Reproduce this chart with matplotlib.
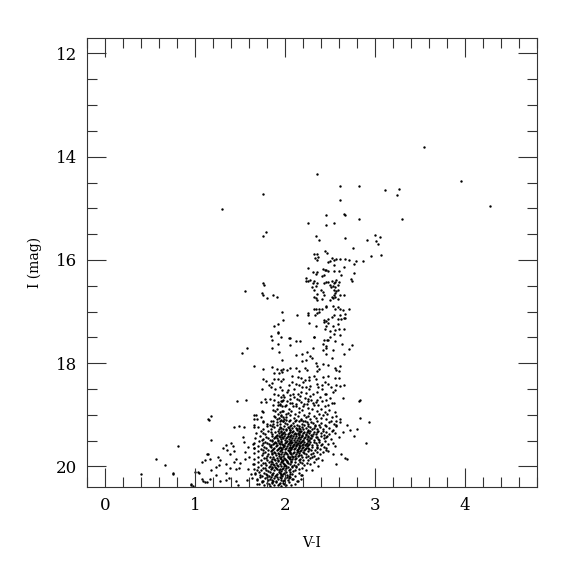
import numpy as np
import matplotlib
matplotlib.use("Agg")
import matplotlib.pyplot as plt
from matplotlib.ticker import MultipleLocator

# ---- data: (V-I, I) pairs, grouped by region ----
bright_stars = [(3.54,13.82),(2.35,14.34),(3.96,14.48),(4.28,14.96),(1.30,15.01),(1.75,14.73),
    (2.61,14.57),(2.82,14.57),(3.11,14.65),(3.27,14.63),(3.24,14.74),(3.30,15.21),(2.61,14.84),
    (2.46,15.13),(2.65,15.11),(2.67,15.13),(2.82,15.21),(2.25,15.29),(2.45,15.32),(2.54,15.29),
    (1.79,15.46),(1.76,15.54),(2.34,15.54),(2.38,15.61),(2.67,15.57),(2.76,15.77),(2.91,15.61),
    (3.00,15.52),(3.05,15.56),(3.01,15.63),(3.03,15.69),(2.95,15.92),(3.07,15.90),(2.87,16.02),
    (2.79,16.02),(2.77,16.08),(2.71,16.00),(2.67,15.98)]

upper_rgb = [(2.32,15.88),(2.36,15.88),(2.37,15.94),(2.33,15.96),(2.36,16.00),(2.44,15.83),(2.47,15.86),
    (2.52,15.96),(2.48,16.04),(2.50,16.02),(2.54,16.10),(2.57,15.98),(2.61,15.98),(2.54,16.00),
    (2.25,16.15),(2.31,16.23),(2.34,16.27),(2.36,16.23),(2.42,16.17),(2.44,16.19),(2.46,16.19),
    (2.48,16.21),(2.43,16.29),(2.41,16.31),(2.54,16.21),(2.60,16.21),(2.62,16.29),(2.66,16.14),
    (2.77,16.25),(2.73,16.37),(2.74,16.41),(2.23,16.35),(2.23,16.41),(2.25,16.41),(2.28,16.39),
    (2.32,16.41),(2.36,16.44),(2.31,16.44),(2.34,16.50),(2.43,16.44),(2.45,16.43),(2.48,16.43),
    (2.52,16.41),(2.54,16.44),(2.55,16.43),(2.57,16.39),(2.60,16.43),(2.59,16.48),(2.55,16.52),
    (2.53,16.50),(2.51,16.52),(2.50,16.48),(2.40,16.58),(2.42,16.62),(2.36,16.66),(2.32,16.58),
    (2.30,16.52),(2.54,16.58),(2.57,16.60),(2.59,16.58),(2.56,16.64),(2.54,16.68),(2.52,16.71),
    (2.53,16.73),(2.56,16.71),(2.61,16.68),(2.59,16.75),(2.50,16.77),(2.65,16.68),(2.43,16.68),
    (2.41,16.75),(2.36,16.77),(2.32,16.71),(2.34,16.73),(2.45,16.89),(2.46,16.91),(2.41,16.95),
    (2.38,16.95),(2.34,16.95),(2.32,16.95),(2.36,17.02),(2.33,17.06),(2.38,17.01),(2.53,16.89),
    (2.56,16.95),(2.59,16.91),(2.61,16.95),(2.64,16.97),(2.71,16.95),(2.67,17.04),(2.61,17.06),
    (2.54,17.06),(2.59,17.14),(2.62,17.14),(2.66,17.12),(2.25,17.02),(2.25,17.06),(2.13,17.06),
    (2.43,17.16),(2.46,17.18),(2.48,17.14),(2.52,17.10),(2.43,17.20),(2.48,17.22),(2.46,17.29),
    (2.44,17.33),(2.50,17.37),(2.53,17.29),(2.56,17.35),(2.60,17.33),(2.59,17.24),(2.61,17.45),
    (2.54,17.43),(2.50,17.49),(2.47,17.55),(2.27,17.22),(2.34,17.28),(2.32,17.49),(2.65,17.33),
    (2.67,17.12)]

red_clump = [(1.76,16.44),(1.77,16.48),(1.74,16.64),(1.75,16.68),(1.56,16.60),(1.87,16.68),
    (1.80,16.73),(1.91,16.71),(1.97,17.00),(1.98,17.16),(1.92,17.24),(1.88,17.29),(1.92,17.39),
    (1.92,17.41),(1.84,17.47),(1.95,17.49),(2.05,17.51)]

mid_left = [(1.85,17.55),(1.92,17.62),(1.86,17.70),(1.93,17.78),(1.52,17.80),(1.58,17.70),(1.97,17.93),
    (1.66,18.05),(1.76,18.11),(1.85,18.07),(1.91,18.11),(1.96,18.13),(1.98,18.11),(1.88,18.20),
    (1.93,18.20),(1.97,18.18),(1.75,18.30),(1.79,18.34),(1.85,18.38),(1.88,18.30),(1.92,18.30),
    (1.95,18.34),(1.98,18.30),(1.82,18.43),(1.84,18.47),(1.74,18.51),(1.89,18.51),(1.94,18.47),
    (1.97,18.53),(1.88,18.59),(1.92,18.61),(1.95,18.65),(1.98,18.61),(1.78,18.69),(1.83,18.69),
    (1.73,18.76),(1.79,18.76),(1.88,18.71),(1.92,18.76),(1.95,18.74),(1.98,18.71),(1.47,18.74),
    (1.57,18.72),(1.87,18.82),(1.92,18.82),(1.94,18.82),(1.97,18.84),(2.01,18.82),(1.74,18.92),
    (1.76,18.94),(1.66,19.00),(1.68,19.01),(1.87,18.90),(1.89,18.92),(1.92,18.98),(1.94,18.94),
    (1.97,18.92),(2.01,18.98),(1.88,19.03),(1.89,19.05),(1.95,19.03),(1.98,19.05),(1.18,19.03),
    (1.14,19.09),(1.65,19.09),(1.69,19.09),(1.73,19.05),(1.76,19.13),(1.80,19.17),(1.84,19.13),
    (1.87,19.17),(1.91,19.09),(1.94,19.13),(1.98,19.13),(2.01,19.11)]

mid_right = [(2.04,17.51),(2.06,17.64),(2.12,17.58),(2.17,17.57),(2.32,17.49),(2.43,17.55),(2.48,17.55),
    (2.42,17.62),(2.45,17.66),(2.42,17.74),(2.46,17.70),(2.53,17.74),(2.56,17.58),(2.63,17.62),
    (2.71,17.72),(2.74,17.64),(2.66,17.82),(2.24,17.78),(2.19,17.82),(2.31,17.70),(2.28,17.86),
    (2.30,17.91),(2.23,17.93),(2.19,17.95),(2.12,17.84),(2.34,17.99),(2.36,18.05),(2.42,18.01),
    (2.45,17.82),(2.52,17.91),(2.48,18.03),(2.55,18.09),(2.57,18.13),(2.61,18.05),(2.60,18.16),
    (2.36,18.16),(2.38,18.11),(2.32,18.24),(2.34,18.30),(2.27,18.26),(2.24,18.14),(2.22,18.09),
    (2.15,18.16),(2.12,18.09),(2.06,18.09),(2.02,18.13),(2.08,18.24),(2.14,18.26),(2.18,18.28),
    (2.22,18.32),(2.42,18.26),(2.48,18.24),(2.55,18.28),(2.60,18.28),(2.44,18.36),(2.48,18.40),
    (2.51,18.47),(2.57,18.43),(2.61,18.45),(2.66,18.42),(2.37,18.47),(2.41,18.51),(2.44,18.59),
    (2.35,18.55),(2.27,18.51),(2.31,18.59),(2.23,18.47),(2.18,18.55),(2.15,18.42),(2.08,18.36),
    (2.04,18.42),(2.03,18.53),(2.09,18.59),(2.53,18.55),(2.56,18.53),(2.64,18.67),(2.50,18.67),
    (2.46,18.71),(2.41,18.74),(2.37,18.82),(2.44,18.84),(2.48,18.82),(2.54,18.78),(2.82,18.74),
    (2.35,18.71),(2.31,18.78),(2.25,18.74),(2.21,18.80),(2.15,18.72),(2.12,18.84),(2.06,18.78),
    (2.47,18.98),(2.56,18.94),(2.57,19.03),(2.52,19.05),(2.42,19.00),(2.40,19.07),(2.46,19.09),
    (2.51,19.13),(2.57,19.13),(2.61,19.09),(2.83,19.07),(2.93,19.15)]

mid_core = [(2.05,18.62),(2.10,18.66),(2.17,18.63),(2.22,18.68),(2.28,18.64),(1.99,18.66),(2.13,18.70),
    (2.02,18.73),(2.08,18.77),(2.18,18.75),(2.24,18.79),(2.29,18.72),(2.34,18.76),(1.94,18.79),
    (2.00,18.84),(2.04,18.88),(2.09,18.83),(2.15,18.87),(2.19,18.91),(2.25,18.86),(2.30,18.89),
    (2.36,18.92),(1.91,18.88),(1.98,18.93),(2.03,18.96),(2.07,18.92),(2.11,18.98),(2.16,18.95),
    (2.21,19.00),(2.27,18.97),(2.32,19.02),(2.38,18.99),(1.96,19.01),(2.01,19.04),(2.06,19.00),
    (2.10,19.06),(2.14,19.03),(2.18,19.08),(2.23,19.05),(2.28,19.09),(2.34,19.06),(1.93,19.07),
    (1.99,19.09),(2.04,19.12),(2.12,19.10),(2.20,19.13),(2.26,19.02),(2.12,18.80),(2.20,18.84),
    (2.06,18.70),(1.97,18.73),(2.26,18.70),(2.32,18.82),(2.40,18.88),(2.44,18.95),(2.14,18.60),
    (2.23,18.58),(2.02,18.55),(2.10,18.50),(2.19,18.47),(2.28,18.44),(2.35,18.40),(2.12,18.40),
    (2.20,18.36),(2.27,18.32),(2.41,18.42),(2.46,18.60),(2.52,18.78),(2.39,18.65),(2.49,18.90)]

right_fringe = [(2.57,19.19),(2.61,19.15),(2.69,19.19),(2.72,19.29),(2.80,19.27),(2.90,19.54),
    (2.77,19.42),(2.69,19.85),(2.62,19.77),(2.57,19.96),(2.53,19.77),(2.56,19.61),(2.60,19.44),
    (2.64,19.34),(2.53,19.54),(2.48,19.71),(2.45,19.65),(2.41,19.88),(2.37,20.00),(2.30,20.08),
    (2.19,20.17),(2.14,20.29),(2.08,20.25),(2.04,20.23),(2.06,20.15),(2.18,20.25),(2.83,18.72),
    (2.67,19.83)]

blue_tail = [(0.57,19.85),(0.67,19.98),(0.40,20.15),(0.75,20.14),(0.81,19.61),(0.95,20.35),
    (0.98,20.39),(1.00,20.10),(1.04,20.12),(1.08,19.92),(1.11,19.88),(1.14,19.77),(1.09,20.29),
    (1.13,20.31),(1.15,19.11),(1.43,19.23),(1.49,19.21),(1.54,19.23),(1.65,19.19),(1.65,19.23),
    (1.18,19.48),(1.34,19.59),(1.40,19.54),(1.42,19.61),(1.31,19.65),(1.36,19.69),(1.43,19.71),
    (1.39,19.77),(1.53,19.44),(1.54,19.52),(1.59,19.63),(1.56,19.73),(1.64,19.57),(1.66,19.65),
    (1.13,19.77),(1.17,19.85),(1.25,19.81),(1.28,19.88),(1.18,20.08),(1.23,20.02),(1.27,19.98),
    (1.34,19.96),(1.34,20.12),(1.39,20.04),(1.45,20.06),(1.50,19.94),(1.49,20.04),(1.46,19.85),
    (1.43,19.92),(1.55,19.85),(1.60,19.81),(1.64,19.96),(1.59,20.06),(1.62,20.15),(0.76,20.12),
    (0.96,20.37),(1.03,20.10),(1.08,20.25),(1.11,20.31),(1.17,20.25),(1.23,20.17),(1.28,20.29),
    (1.34,20.27),(1.38,20.23),(1.45,20.29),(1.48,20.37),(1.58,20.27),(1.63,20.23),(1.67,20.12),
    (1.69,20.08),(1.72,20.17),(1.69,20.27),(1.74,20.29),(1.69,20.35)]

core = [
    (1.76,19.14),(1.83,19.19),(1.87,19.12),(1.94,19.17),(1.98,19.13),(2.02,19.18),(2.05,19.11),(2.09,19.16),
    (2.13,19.19),(2.16,19.13),(2.19,19.17),(2.22,19.12),(2.26,19.18),(2.29,19.14),(2.33,19.19),(2.36,19.12),
    (2.40,19.16),(2.44,19.19),(2.49,19.14),(2.54,19.18),(1.91,19.15),(2.07,19.19),(2.11,19.13),(2.24,19.15),
    (2.31,19.16),(2.00,19.16),(2.18,19.11),(1.96,19.11),
    (1.70,19.23),(1.75,19.27),(1.80,19.21),(1.84,19.28),(1.88,19.24),(1.91,19.20),(1.93,19.28),(1.96,19.25),
    (1.99,19.21),(2.01,19.27),(2.03,19.23),(2.05,19.29),(2.08,19.25),(2.10,19.22),(2.13,19.27),(2.15,19.21),
    (2.17,19.28),(2.19,19.24),(2.21,19.20),(2.23,19.26),(2.25,19.29),(2.28,19.23),(2.30,19.27),(2.33,19.22),
    (2.36,19.28),(2.39,19.24),(2.42,19.27),(2.45,19.21),(2.49,19.25),(2.53,19.29),(2.57,19.22),(1.86,19.22),
    (1.98,19.28),(2.06,19.21),(2.12,19.25),(2.20,19.28),(2.26,19.22),(2.32,19.25),(2.04,19.26),(2.16,19.25),
    (1.94,19.23),(2.38,19.20),
    (1.68,19.36),(1.73,19.32),(1.78,19.38),(1.81,19.31),(1.86,19.37),(1.89,19.33),(1.91,19.39),(1.93,19.35),
    (1.95,19.31),(1.97,19.38),(1.99,19.34),(2.01,19.30),(2.03,19.37),(2.05,19.33),(2.07,19.39),(2.09,19.32),
    (2.11,19.36),(2.13,19.30),(2.15,19.38),(2.17,19.34),(2.19,19.39),(2.21,19.33),(2.23,19.37),(2.25,19.31),
    (2.27,19.36),(2.29,19.39),(2.32,19.33),(2.34,19.38),(2.37,19.31),(2.40,19.36),(2.43,19.39),(2.46,19.33),
    (2.49,19.37),(2.52,19.31),(2.56,19.36),(1.84,19.34),(1.92,19.31),(1.98,19.36),(2.04,19.35),(2.08,19.34),
    (2.12,19.38),(2.16,19.31),(2.20,19.36),(2.24,19.34),(2.28,19.31),(2.31,19.37),(2.36,19.34),(2.42,19.32),
    (2.00,19.38),(2.06,19.30),(2.14,19.35),(2.18,19.32),(1.96,19.33),(2.10,19.38),(1.75,19.35),
    (1.67,19.45),(1.72,19.41),(1.76,19.47),(1.79,19.43),(1.83,19.48),(1.86,19.42),(1.88,19.46),(1.90,19.41),
    (1.92,19.48),(1.94,19.44),(1.96,19.40),(1.98,19.46),(2.00,19.49),(2.02,19.43),(2.04,19.47),(2.06,19.41),
    (2.08,19.45),(2.10,19.48),(2.12,19.42),(2.14,19.46),(2.16,19.40),(2.18,19.44),(2.20,19.49),(2.22,19.43),
    (2.24,19.47),(2.26,19.41),(2.29,19.45),(2.32,19.49),(2.34,19.43),(2.37,19.47),(2.40,19.42),(2.43,19.46),
    (2.47,19.41),(2.51,19.47),(1.81,19.45),(1.85,19.49),(1.89,19.44),(1.93,19.41),(1.97,19.44),(2.01,19.46),
    (2.03,19.41),(2.05,19.44),(2.07,19.48),(2.09,19.42),(2.11,19.45),(2.13,19.49),(2.15,19.43),(2.17,19.47),
    (2.19,19.41),(2.21,19.46),(2.23,19.40),(2.25,19.44),(2.27,19.48),(2.30,19.42),(2.36,19.44),(1.99,19.42),
    (1.95,19.47),(2.38,19.49),(2.45,19.44),(1.74,19.49),(1.91,19.45),(2.28,19.46),
    (1.66,19.55),(1.71,19.51),(1.74,19.58),(1.78,19.53),(1.82,19.57),(1.85,19.51),(1.87,19.56),(1.89,19.52),
    (1.91,19.58),(1.93,19.54),(1.95,19.50),(1.97,19.56),(1.99,19.59),(2.01,19.53),(2.03,19.57),(2.05,19.51),
    (2.07,19.55),(2.09,19.59),(2.11,19.52),(2.13,19.56),(2.15,19.50),(2.17,19.55),(2.19,19.58),(2.21,19.52),
    (2.23,19.57),(2.25,19.51),(2.27,19.56),(2.30,19.59),(2.32,19.53),(2.35,19.58),(2.38,19.52),(2.41,19.56),
    (2.44,19.51),(2.48,19.57),(1.80,19.54),(1.84,19.59),(1.88,19.54),(1.92,19.51),(1.96,19.53),(1.98,19.58),
    (2.00,19.55),(2.02,19.50),(2.04,19.54),(2.06,19.58),(2.08,19.52),(2.10,19.56),(2.12,19.59),(2.14,19.54),
    (2.16,19.58),(2.18,19.52),(2.20,19.56),(2.22,19.59),(2.24,19.54),(2.28,19.52),(2.34,19.55),(1.94,19.57),
    (2.26,19.58),(2.40,19.59),(1.76,19.55),(1.90,19.55),(2.06,19.53),(2.12,19.53),(2.19,19.51),
    (1.66,19.65),(1.70,19.61),(1.73,19.67),(1.77,19.62),(1.81,19.68),(1.84,19.63),(1.86,19.69),(1.88,19.64),
    (1.90,19.60),(1.92,19.66),(1.94,19.62),(1.96,19.68),(1.98,19.63),(2.00,19.67),(2.02,19.61),(2.04,19.65),
    (2.06,19.69),(2.08,19.63),(2.10,19.67),(2.12,19.61),(2.14,19.66),(2.16,19.62),(2.18,19.68),(2.20,19.63),
    (2.22,19.67),(2.24,19.61),(2.27,19.66),(2.30,19.62),(2.33,19.68),(2.36,19.63),(2.39,19.67),(2.43,19.62),
    (2.46,19.68),(1.79,19.65),(1.83,19.60),(1.87,19.66),(1.91,19.69),(1.95,19.64),(1.99,19.60),(2.01,19.64),
    (2.03,19.68),(2.05,19.62),(2.07,19.66),(2.09,19.60),(2.11,19.64),(2.13,19.69),(2.15,19.64),(2.17,19.60),
    (2.19,19.65),(2.21,19.69),(2.25,19.64),(2.29,19.68),(1.97,19.66),(2.23,19.64),(2.35,19.65),(1.75,19.69),
    (1.93,19.64),(2.07,19.64),
    (1.66,19.75),(1.70,19.71),(1.74,19.78),(1.78,19.73),(1.81,19.77),(1.84,19.71),(1.86,19.76),(1.88,19.72),
    (1.90,19.78),(1.92,19.74),(1.94,19.70),(1.96,19.76),(1.98,19.79),(2.00,19.73),(2.02,19.77),(2.04,19.71),
    (2.06,19.75),(2.08,19.79),(2.10,19.72),(2.12,19.76),(2.14,19.70),(2.16,19.75),(2.18,19.78),(2.20,19.72),
    (2.23,19.77),(2.26,19.71),(2.29,19.76),(2.32,19.79),(2.35,19.73),(2.39,19.77),(2.42,19.72),(1.80,19.79),
    (1.85,19.74),(1.89,19.75),(1.93,19.77),(1.97,19.72),(2.01,19.75),(2.03,19.79),(2.05,19.73),(2.07,19.77),
    (2.09,19.74),(2.11,19.79),(2.13,19.73),(2.17,19.71),(2.21,19.75),(2.25,19.79),(1.99,19.77),(2.15,19.78),
    (1.76,19.74),(2.31,19.74),
    (1.66,19.85),(1.70,19.81),(1.73,19.88),(1.77,19.83),(1.80,19.87),(1.83,19.81),(1.85,19.86),(1.87,19.82),
    (1.89,19.88),(1.91,19.84),(1.93,19.80),(1.95,19.86),(1.97,19.89),(1.99,19.83),(2.01,19.87),(2.03,19.81),
    (2.05,19.85),(2.07,19.89),(2.09,19.82),(2.11,19.86),(2.14,19.80),(2.17,19.85),(2.20,19.88),(2.23,19.82),
    (2.26,19.87),(2.30,19.81),(2.34,19.86),(2.37,19.83),(1.84,19.89),(1.88,19.85),(1.92,19.87),(1.96,19.82),
    (2.00,19.85),(2.02,19.89),(2.04,19.83),(2.08,19.86),(2.12,19.83),(2.15,19.88),(2.19,19.81),(1.79,19.84),
    (1.94,19.84),(2.06,19.81),(2.28,19.84),(1.98,19.87),
    (1.66,19.95),(1.70,19.91),(1.73,19.98),(1.76,19.93),(1.79,19.97),(1.82,19.91),(1.84,19.96),(1.86,19.92),
    (1.88,19.98),(1.90,19.94),(1.92,19.90),(1.94,19.96),(1.96,19.99),(1.98,19.93),(2.00,19.97),(2.02,19.91),
    (2.05,19.95),(2.08,19.99),(2.11,19.92),(2.14,19.96),(2.17,19.91),(2.21,19.97),(2.24,19.93),(2.28,19.96),
    (2.32,19.92),(1.83,19.99),(1.87,19.95),(1.91,19.97),(1.95,19.92),(1.99,19.95),(2.01,19.99),(2.03,19.94),
    (2.07,19.92),(2.10,19.97),(2.19,19.94),(1.78,19.94),(1.97,19.90),(2.12,19.99),
    (1.66,20.05),(1.70,20.01),(1.73,20.08),(1.76,20.03),(1.79,20.07),(1.82,20.01),(1.84,20.06),(1.86,20.02),
    (1.88,20.08),(1.90,20.04),(1.92,20.00),(1.94,20.06),(1.96,20.09),(1.98,20.03),(2.00,20.07),(2.03,20.01),
    (2.06,20.05),(2.09,20.09),(2.12,20.02),(2.15,20.06),(2.19,20.03),(2.23,20.07),(1.81,20.09),(1.85,20.04),
    (1.89,20.01),(1.93,20.08),(1.97,20.05),(2.01,20.04),(2.04,20.08),(2.08,20.02),(1.78,20.04),(1.91,20.06),
    (2.11,20.07),(1.99,20.00),
    (1.67,20.15),(1.71,20.11),(1.74,20.18),(1.77,20.13),(1.80,20.17),(1.83,20.11),(1.85,20.16),(1.87,20.12),
    (1.89,20.18),(1.91,20.14),(1.93,20.10),(1.95,20.16),(1.97,20.19),(1.99,20.13),(2.02,20.17),(2.05,20.11),
    (2.08,20.15),(2.11,20.19),(2.15,20.13),(2.18,20.17),(1.82,20.19),(1.86,20.14),(1.90,20.17),(1.94,20.12),
    (1.98,20.15),(2.01,20.11),(2.04,20.18),(1.79,20.14),(1.96,20.14),
    (1.69,20.25),(1.72,20.21),(1.75,20.28),(1.78,20.23),(1.81,20.27),(1.84,20.21),(1.86,20.26),(1.88,20.22),
    (1.90,20.28),(1.92,20.24),(1.94,20.20),(1.96,20.26),(1.98,20.29),(2.00,20.23),(2.03,20.27),(2.06,20.21),
    (2.09,20.25),(2.13,20.28),(1.83,20.24),(1.87,20.29),(1.91,20.21),(1.95,20.23),(1.99,20.26),(2.02,20.21),
    (1.80,20.20),
    (1.71,20.35),(1.74,20.31),(1.77,20.37),(1.80,20.33),(1.83,20.38),(1.85,20.32),(1.88,20.36),(1.90,20.31),
    (1.92,20.37),(1.94,20.33),(1.96,20.38),(1.98,20.32),(2.01,20.36),(2.04,20.31),(2.07,20.37),(2.11,20.34),
    (1.86,20.30),(1.93,20.35),(1.99,20.34),(1.82,20.35)]

x_ticks = [0, 1, 2, 3, 4]
y_ticks = [12, 14, 16, 18, 20]

groups = [bright_stars, upper_rgb, red_clump, mid_left, mid_right, mid_core,
          right_fringe, blue_tail, core]
pts = np.array([p for g in groups for p in g])
vi, imag = pts[:, 0], pts[:, 1]

plt.rcParams['font.family'] = ['DejaVu Serif']
fig = plt.figure(figsize=(5.75, 5.75), dpi=100)
ax = fig.add_axes([87/575, 1 - 487/575, 450/575, 449/575])

ax.scatter(vi, imag, s=3.0, c='black', marker='o', linewidths=0)

ax.set_xlim(-0.2, 4.8)
ax.set_ylim(20.4, 11.7)
ax.set_xticks(x_ticks)
ax.set_yticks(y_ticks)
ax.xaxis.set_minor_locator(MultipleLocator(0.2))
ax.yaxis.set_minor_locator(MultipleLocator(0.5))
ax.tick_params(which='both', direction='in', top=True, right=True, width=0.8, colors='#333333',
               labelcolor='black')
ax.tick_params(which='major', length=13.5, labelsize=12)
ax.tick_params(axis='x', which='major', pad=7)
ax.tick_params(axis='y', which='major', pad=7)
ax.tick_params(which='minor', length=7)
for sp in ax.spines.values():
    sp.set_linewidth(0.8)
    sp.set_color('#333333')

ax.set_xlabel('V-I', fontsize=10, labelpad=16)
ax.set_ylabel('I (mag)', fontsize=10, labelpad=10)

fig.savefig('out.png', dpi=100)
